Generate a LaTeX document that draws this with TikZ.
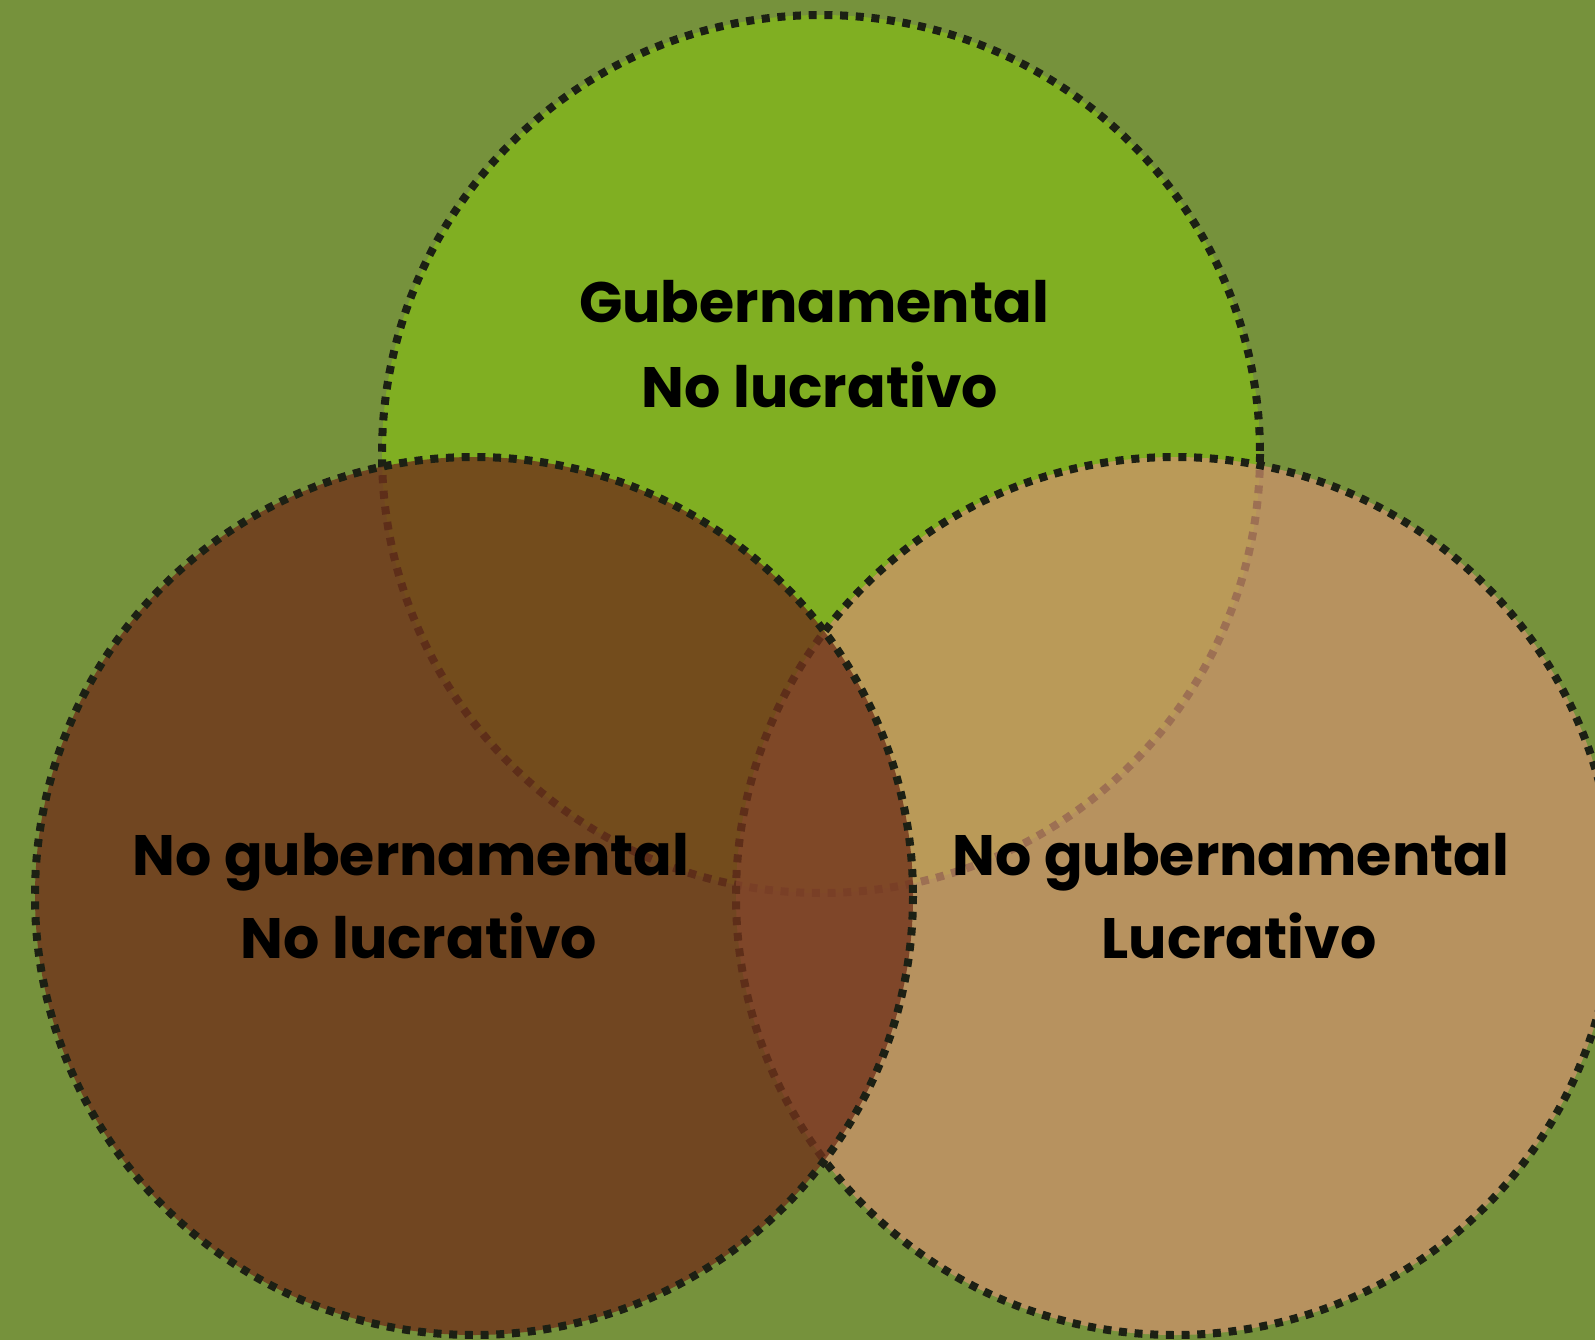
\documentclass[tikz,border=0pt]{standalone}
\usepackage{fontspec}
\setmainfont{Poppins}
\definecolor{bggreen}{RGB}{118,146,60}
\definecolor{topgreen}{RGB}{128,175,34}
\definecolor{lefbrown}{RGB}{112,50,27}
\definecolor{rigtan}{RGB}{212,146,111}
\definecolor{outl}{RGB}{28,32,20}
\tikzset{
  vennline/.style={draw=outl, line width=8pt, dash pattern=on 8pt off 7.7pt},
  lbl/.style={anchor=base, font=\fontsize{57}{70}\selectfont\bfseries, text=black, inner sep=0pt}
}
\begin{document}
\begin{tikzpicture}[x=1pt,y=-1pt]
\useasboundingbox (0,0) rectangle (1595,1340);
\clip (0,0) rectangle (1595,1340);
\fill[bggreen] (0,0) rectangle (1595,1340);
% top circle
\fill[topgreen] (821,454) circle[radius=439];
\draw[vennline] (821,454) circle[radius=439];
% right circle
\fill[rigtan, fill opacity=0.7] (1175,896) circle[radius=439];
\draw[vennline] (1175,896) circle[radius=439];
% left circle
\fill[lefbrown, fill opacity=0.79] (474,896) circle[radius=439];
\draw[vennline] (474,896) circle[radius=439];
% labels
\node[lbl] (t1) at (814,323) {Gubernamental};
\node[lbl] (t2) at (820,407) {No lucrativo};
\node[lbl] (l1) at (411,875) {No gubernamental};
\node[lbl] (l2) at (419,958) {No lucrativo};
\node[lbl] (r1) at (1231,875) {No gubernamental};
\node[lbl] (r2) at (1239,958) {Lucrativo};
\end{tikzpicture}
\end{document}
